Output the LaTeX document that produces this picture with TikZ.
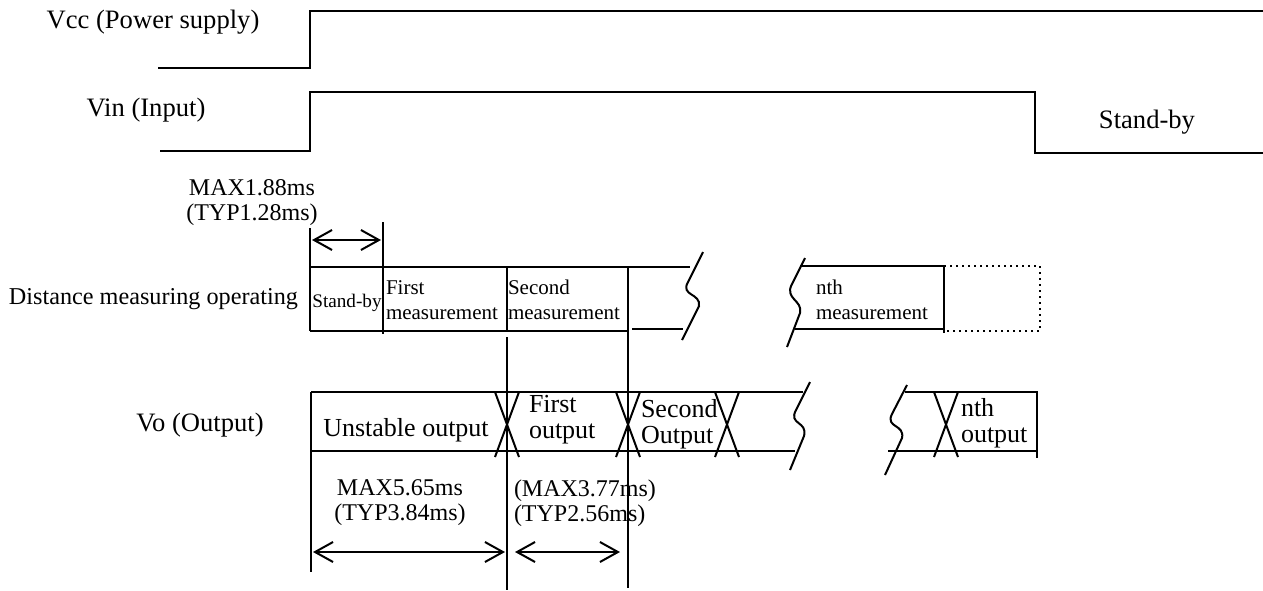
\documentclass[tikz,border=0pt]{standalone}
\usepackage{fontspec}
\setmainfont{Liberation Serif}
\usetikzlibrary{arrows.meta}

\begin{document}
\begin{tikzpicture}[x=0.5pt, y=-0.5pt, line width=1pt,
	lbl/.style = {inner sep=0pt, font=\fontsize{13.3}{13.3}\selectfont},
	meas/.style = {inner sep=0pt, anchor=west, align=left, font=\fontsize{10.5}{12.5}\selectfont},
	outp/.style = {inner sep=0pt, anchor=west, align=left, font=\fontsize{13}{13}\selectfont},
	span/.style = {inner sep=0pt, align=center, font=\fontsize{12}{12.5}\selectfont},
	dim/.style = {{Straight Barb[length=9pt,width=10pt]}-{Straight Barb[length=9pt,width=10pt]}},
	tick/.style = {line width=0.6pt}]
\useasboundingbox (0,0) rectangle (1263,590);
\node[lbl] (vcc) at (153,22) {Vcc (Power supply)};
\node[lbl] (vin) at (146,110) {Vin (Input)};
\node[lbl] (sb) at (1147,122) {Stand-by};
\draw (158,68) -- (310,68) -- (310,11) -- (1263,11);
\draw (160,151) -- (310,151) -- (310,92) -- (1035,92) -- (1035,153) -- (1263,153);

\node[span] (t1) at (252,203) {MAX1.88ms\\(TYP1.28ms)};
\coordinate (a1) at (312,240);
\coordinate (a2) at (381,240);
\draw[dim] (a1) -- (a2);

\node[inner sep=0pt, anchor=west, font=\fontsize{12.1}{12.1}\selectfont] (dm) at (8,299) {Distance measuring operating};
\node[inner sep=0pt, font=\fontsize{9.6}{10}\selectfont] (m0) at (347,303) {Stand-by};
\node[meas] (m1) at (385,300) {First\\measurement};
\node[meas] (m2) at (507,300) {Second\\measurement};
\node[meas] (mn) at (815,300) {nth\\measurement};
\draw (310,228) -- (310,331);
\draw[tick] (383,222) -- (383,334);
\draw (310,267) -- (690,267);
\draw (310,331) -- (628,331);
\draw (632,329) -- (683,329);
\draw (507,267) -- (507,331);
\draw (628,267) -- (628,588);
\draw (507,337) -- (507,590);
\draw (703,252) -- (688,282) .. controls (680,296) and (701,293) .. (699,306) -- (682,340);
\draw (805,258) -- (792,284) .. controls (784,299) and (803,300) .. (800,313) -- (787,347);
\draw (800,266) -- (944,266) -- (944,333);
\draw (795,329) -- (944,329);
\draw[dotted] (944,266) -- (1040,266) -- (1040,331) -- (944,331);

\node[lbl] (vo) at (200,425) {Vo (Output)};
\node[inner sep=0pt, font=\fontsize{13}{13}\selectfont] (o0) at (406,430) {Unstable output};
\node[outp] (o1) at (528,420) {First\\output};
\node[outp] (o2) at (640,424) {Second\\Output};
\node[outp] (on) at (960,423) {nth\\output};
\draw (311,392) -- (803,392);
\draw (311,451) -- (795,451);
\draw[tick] (311,392) -- (311,572);
\draw (905,392) -- (1037,392) -- (1037,458);
\draw (888,451) -- (1037,451);
\foreach \c in {507,628,727,946}
	\draw (\c-12,392) -- (\c+12,457) (\c+12,392) -- (\c-12,457);
\draw (810,382) -- (796,410) .. controls (788,425) and (808,421) .. (804,436) -- (790,470);
\draw (907,385) -- (892,414) .. controls (885,428) and (905,424) .. (902,438) -- (885,475);

\node[span] (t2) at (400,503) {MAX5.65ms\\(TYP3.84ms)};
\node[span, anchor=west, align=left] (t3) at (513,503) {(MAX3.77ms)\\(TYP2.56ms)};
\coordinate (b1) at (313,552);
\coordinate (b2) at (505,552);
\coordinate (b3) at (515,552);
\coordinate (b4) at (620,552);
\draw[dim] (b1) -- (b2);
\draw[dim] (b3) -- (b4);
\end{tikzpicture}
\end{document}
